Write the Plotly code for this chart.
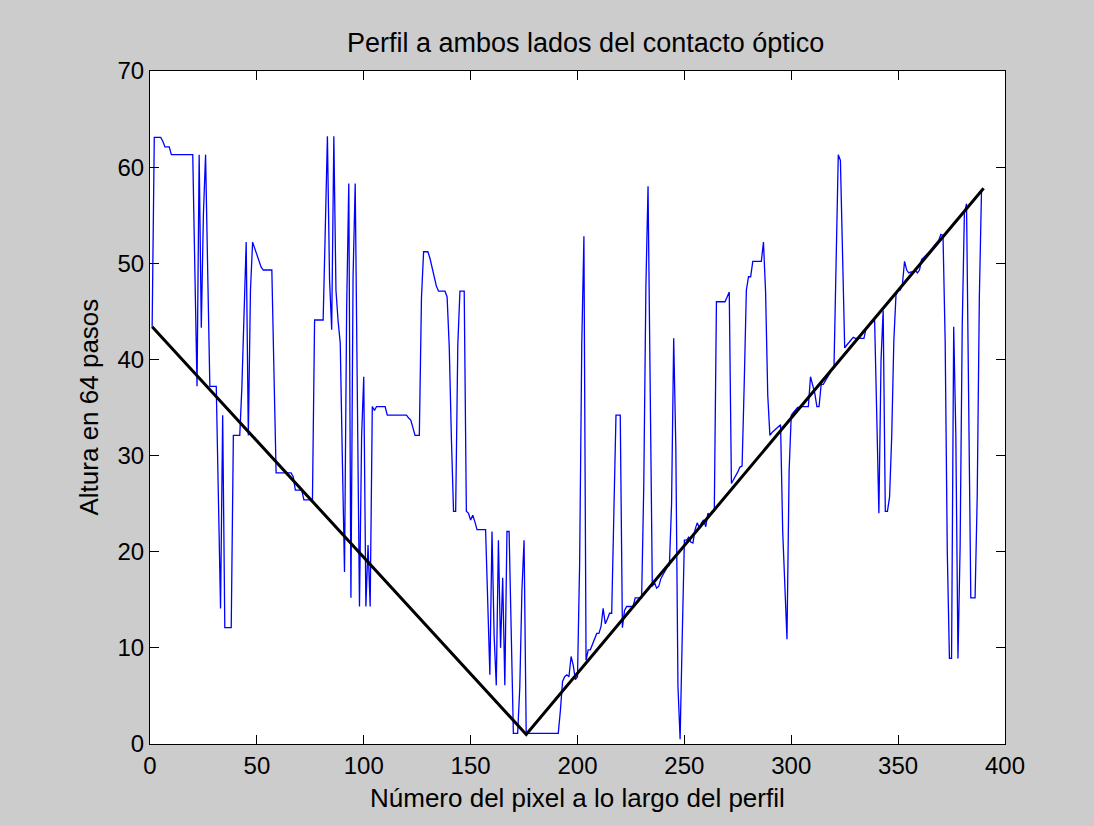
import plotly.graph_objects as go

# Pixel index along the profile and measured height (64-step scale)
pixel = list(range(1, 390))
altura = [
    43.4, 63.1, 63.1, 63.1, 63.1, 62.7, 62.1, 62.1, 62.1, 61.3,
    61.3, 61.3, 61.3, 61.3, 61.3, 61.3, 61.3, 61.3, 61.3, 61.3,
    49.1, 37.2, 61.3, 43.3, 55.2, 61.3, 49.1, 37.2, 37.2, 37.2,
    37.2, 25.6, 14.1, 34.2, 12.1, 12.1, 12.1, 12.1, 32.1, 32.1,
    32.1, 32.1, 37.2, 44.0, 52.2, 32.1, 47.2, 52.2, 51.5, 51.0,
    50.3, 49.6, 49.3, 49.3, 49.3, 49.3, 49.3, 38.6, 28.2, 28.2,
    28.2, 28.2, 28.2, 28.2, 28.2, 28.2, 27.8, 26.4, 26.4, 26.4,
    26.4, 25.4, 25.4, 25.4, 25.4, 25.4, 44.1, 44.1, 44.1, 44.1,
    44.1, 53.5, 63.2, 48.3, 43.1, 63.2, 47.2, 44.0, 41.7, 29.5,
    17.9, 45.3, 58.3, 15.2, 48.6, 58.3, 33.0, 14.3, 32.0, 38.2,
    14.3, 20.7, 14.3, 35.1, 34.7, 35.1, 35.1, 35.1, 35.1, 35.1,
    34.2, 34.2, 34.2, 34.2, 34.2, 34.2, 34.2, 34.2, 34.2, 34.2,
    33.9, 33.7, 32.9, 32.1, 32.1, 32.1, 46.4, 51.2, 51.2, 51.2,
    50.5, 49.6, 48.6, 47.6, 47.1, 47.1, 47.1, 47.1, 46.5, 41.3,
    31.8, 24.2, 24.2, 41.5, 47.1, 47.1, 47.1, 24.2, 24.0, 23.3,
    23.8, 23.1, 22.3, 22.3, 22.3, 22.3, 22.3, 14.8, 7.2, 22.1,
    11.2, 6.1, 21.2, 10.0, 17.3, 6.1, 22.1, 22.1, 11.5, 1.1,
    1.1, 1.1, 5.9, 16.0, 21.2, 1.1, 1.1, 1.1, 1.1, 1.1,
    1.1, 1.1, 1.1, 1.1, 1.1, 1.1, 1.1, 1.1, 1.1, 1.1,
    1.1, 3.5, 6.5, 7.0, 7.2, 7.0, 9.1, 8.2, 6.7, 7.0,
    18.8, 41.7, 52.8, 8.7, 9.8, 9.8, 10.4, 10.8, 11.5, 11.5,
    12.2, 14.1, 12.5, 13.0, 13.6, 13.6, 24.2, 34.2, 34.2, 34.2,
    12.1, 13.9, 14.3, 14.3, 14.3, 14.3, 15.2, 15.2, 15.2, 15.2,
    26.8, 47.6, 58.0, 37.2, 16.4, 16.8, 16.2, 16.4, 17.2, 17.6,
    18.0, 18.4, 18.6, 24.9, 42.2, 30.9, 6.0, 0.5, 11.2, 21.2,
    21.2, 21.5, 21.0, 20.9, 22.3, 23.0, 22.5, 23.0, 23.3, 22.6,
    24.0, 23.8, 24.2, 24.2, 46.0, 46.0, 46.0, 46.0, 46.0, 46.5,
    47.0, 27.1, 27.5, 27.8, 28.3, 28.8, 28.9, 37.5, 47.2, 48.6,
    48.6, 50.2, 50.2, 50.2, 50.2, 50.2, 52.2, 47.0, 36.3, 32.1,
    32.4, 32.6, 32.8, 33.0, 33.2, 22.1, 16.9, 10.9, 28.4, 34.2,
    34.5, 34.7, 35.0, 35.0, 35.1, 35.1, 35.1, 35.1, 38.2, 37.2,
    36.5, 35.1, 35.1, 37.4, 37.4, 37.8, 38.2, 38.6, 38.9, 39.2,
    50.2, 61.3, 60.7, 50.7, 41.2, 41.5, 41.8, 42.0, 42.3, 42.2,
    42.2, 42.2, 42.2, 42.2, 43.2, 43.4, 43.6, 43.8, 44.1, 34.2,
    24.0, 39.9, 45.1, 24.2, 24.2, 25.7, 32.0, 42.0, 46.7, 47.2,
    47.2, 47.8, 50.2, 49.3, 49.0, 49.1, 49.1, 49.3, 49.0, 49.3,
    50.4, 50.6, 50.8, 51.0, 51.3, 51.6, 51.9, 52.2, 52.4, 53.0,
    52.9, 42.0, 20.0, 8.9, 8.9, 43.4, 32.1, 8.9, 20.5, 43.6,
    55.2, 56.2, 35.4, 15.2, 15.2, 15.2, 25.7, 46.5, 57.5,
]

# Two straight fits meeting at the optical contact point
ajuste_x = [1, 176, 390]
ajuste_y = [43.4, 1.0, 57.8]

x_ticks = [0, 50, 100, 150, 200, 250, 300, 350, 400]
y_ticks = [0, 10, 20, 30, 40, 50, 60, 70]

FONT = "Liberation Sans, Arial, Helvetica, sans-serif"
TEXT_SIZE = 26
TICK_SIZE = 24

fig = go.Figure()
fig.add_trace(go.Scatter(
    x=pixel, y=altura, mode="lines",
    line=dict(color="#0000ff", width=1.3),
    hoverinfo="skip",
))
fig.add_trace(go.Scatter(
    x=ajuste_x, y=ajuste_y, mode="lines",
    line=dict(color="black", width=3),
    hoverinfo="skip",
))

axis_style = dict(
    showgrid=False, zeroline=False,
    showline=True, linecolor="black", linewidth=1,
    mirror="ticks", ticks="inside", ticklen=9, tickwidth=1, tickcolor="black",
    tickfont=dict(family=FONT, size=TICK_SIZE, color="black"),
)
fig.update_xaxes(range=[0, 400], tickvals=x_ticks, ticktext=[str(v) for v in x_ticks], **axis_style)
fig.update_yaxes(range=[0, 70], tickvals=y_ticks, ticktext=[str(v) for v in y_ticks], **axis_style)

fig.update_layout(
    width=1094, height=826,
    paper_bgcolor="#cccccc", plot_bgcolor="white",
    margin=dict(l=150, r=89, t=71, b=82),
    showlegend=False,
    font=dict(family=FONT, size=TEXT_SIZE, color="black"),
    annotations=[
        dict(text="Perfil a ambos lados del contacto óptico", xref="paper", yref="paper",
             x=0.5, y=1, xanchor="center", yanchor="middle", yshift=28, xshift=8,
             showarrow=False, font=dict(family=FONT, size=27, color="black")),
        dict(text="Número del pixel a lo largo del perfil", xref="paper", yref="paper",
             x=0.5, y=0, xanchor="center", yanchor="middle", yshift=-54,
             showarrow=False, font=dict(family=FONT, size=TEXT_SIZE, color="black")),
        dict(text="Altura en 64 pasos", xref="paper", yref="paper",
             x=0, y=0.5, xanchor="center", yanchor="middle", xshift=-62, textangle=-90,
             showarrow=False, font=dict(family=FONT, size=TEXT_SIZE, color="black")),
    ],
)

fig.write_html("out.html")
